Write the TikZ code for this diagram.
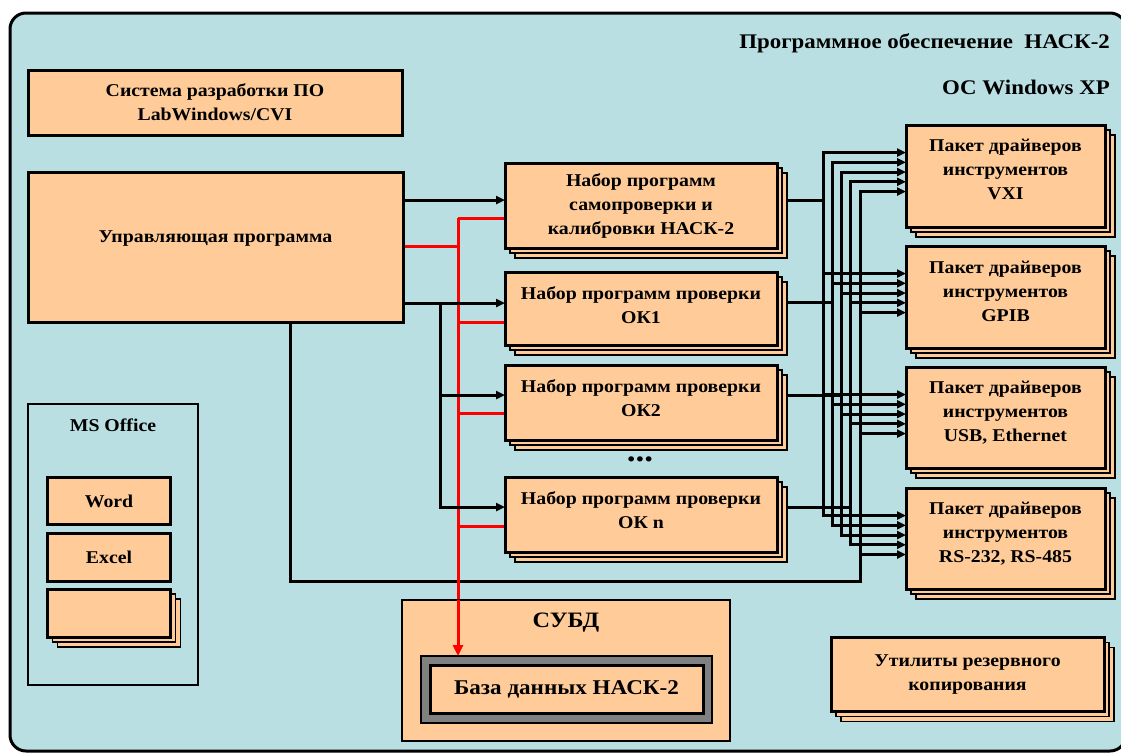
\documentclass[tikz,border=0pt]{standalone}
\usepackage{fontspec}
\setmainfont{Liberation Serif}[FakeStretch=1.1]
\usetikzlibrary{arrows.meta,shadows}
\definecolor{bgblue}{RGB}{185,223,226}
\definecolor{peach}{RGB}{255,204,153}
\definecolor{dbgray}{RGB}{128,128,128}
\pgfdeclarelayer{frame}
\pgfdeclarelayer{wires}
\pgfsetlayers{frame,wires,main}
\tikzset{
  txt/.style={font=\fontsize{18}{24}\selectfont\bfseries, align=center, inner sep=0pt},
  bigtxt/.style={font=\fontsize{20.8}{24}\selectfont\bfseries, inner sep=0pt},
  box/.style={draw=black, line width=3pt, fill=peach, inner sep=0pt, outer sep=0pt, txt},
  stackbox/.style={box,
     copy shadow={shadow xshift=10pt, shadow yshift=-10pt, fill=peach, draw=black, line width=1.5pt},
     copy shadow={shadow xshift=5pt, shadow yshift=-5pt, fill=peach, draw=black, line width=1.5pt}},
  thinbox/.style={draw=black, line width=2.5pt, inner sep=0pt, outer sep=0pt},
  wire/.style={draw=black, line width=3pt},
  vwire/.style={draw=black, line width=3pt, line cap=rect},
  redwire/.style={draw=red, line width=3pt},
  tip/.style={-{Triangle[length=9pt,width=8pt]}},
  redtip/.style={-{Triangle[length=11pt,width=10pt]}},
}
\begin{document}
\begin{tikzpicture}[x=1pt,y=-1pt]
\useasboundingbox (0,0) rectangle (1121,753);
\begin{pgfonlayer}{frame}
\fill[white] (0,0) rectangle (1121,753);
\draw[line width=3pt, fill=bgblue, rounded corners=16pt] (10,13) rectangle (1126,751);
\end{pgfonlayer}

% titles
\node[bigtxt, anchor=east] (title) at (1110,43) {Программное обеспечение~~НАСК-2};
\node[bigtxt, anchor=east] (os) at (1110,87) {ОС Windows XP};

% left column
\node[box, minimum width=374pt, minimum height=65pt] (dev) at (215,102.5) {Система разработки ПО\\LabWindows/CVI};
\node[box, minimum width=375pt, minimum height=150pt,
      label={[txt, yshift=8pt]center:Управляющая программа}] (ctl) at (215.5,247) {};

% MS Office
\node[thinbox, minimum width=170pt, minimum height=281pt,
      label={[txt, anchor=center, yshift=-21pt]north:MS Office}] (office) at (113,544.5) {};
\node[box, minimum width=123pt, minimum height=47pt] (word) at (109,501) {Word};
\node[box, minimum width=123pt, minimum height=48pt] (excel) at (109,557) {Excel};
\node[stackbox, minimum width=123pt, minimum height=48pt] (other) at (109,613) {};

% program sets
\node[stackbox, minimum width=272pt, minimum height=85pt] (st) at (641,205.5) {Набор программ\\самопроверки и\\калибровки НАСК-2};
\node[stackbox, minimum width=272pt, minimum height=73pt,
      label={[txt, yshift=3pt]center:Набор программ проверки\\ОК1}] (ok1) at (641,308.5) {};
\node[stackbox, minimum width=272pt, minimum height=75pt,
      label={[txt, yshift=4pt]center:Набор программ проверки\\ОК2}] (ok2) at (641,402.5) {};
\node[font=\fontsize{32}{32}\selectfont\bfseries, inner sep=0pt] (dots) at (640,459) {...};
\node[stackbox, minimum width=272pt, minimum height=75pt,
      label={[txt, yshift=4pt]center:Набор программ проверки\\ОК n}] (okn) at (641,514.5) {};

% drivers
\node[stackbox, minimum width=199pt, minimum height=102pt,
      label={[txt, yshift=6.5pt]center:Пакет драйверов\\инструментов\\VXI}] (vxi) at (1005.5,176) {};
\node[stackbox, minimum width=199pt, minimum height=102pt,
      label={[txt, yshift=6pt]center:Пакет драйверов\\инструментов\\GPIB}] (gpib) at (1005.5,297) {};
\node[stackbox, minimum width=199pt, minimum height=101pt,
      label={[txt, yshift=5pt]center:Пакет драйверов\\инструментов\\USB, Ethernet}] (usb) at (1005.5,417.5) {};
\node[stackbox, minimum width=199pt, minimum height=101pt,
      label={[txt, yshift=5pt]center:Пакет драйверов\\инструментов\\RS-232, RS-485}] (rs) at (1005.5,538.5) {};

% DBMS
\node[thinbox, fill=peach, minimum width=328pt, minimum height=141pt,
      label={[font=\fontsize{22}{24}\selectfont\bfseries, inner sep=0pt, anchor=center, yshift=-23pt]north:СУБД}] (subd) at (566,670.5) {};
\node[draw=black, line width=2pt, fill=dbgray, inner sep=0pt, outer sep=0pt,
      minimum width=291pt, minimum height=67pt] (dbo) at (566.5,689.5) {};
\node[box, font=\fontsize{21}{24}\selectfont\bfseries, minimum width=273pt, minimum height=48pt] (dbi) at (566.5,689) {База данных НАСК-2};

% backup utilities
\node[stackbox, minimum width=273pt, minimum height=74pt] (util) at (967.5,674.5) {Утилиты резервного\\копирования};

% red link inside the DBMS box (on top of it)
\coordinate (rj) at (458,218);
\draw[redwire, redtip] (rj |- subd.north) -- (rj |- dbo.north);

% wires
\begin{pgfonlayer}{wires}
% control program to the bus (bottom line)
\coordinate (cb) at (290,581);
\coordinate (bus5) at (860,0);
\draw[vwire] (ctl.south -| cb) -- (cb) -- (bus5 |- cb) -- (bus5 |- 0,553);

% red links to DB
\draw[redwire] (ctl.east |- 0,246) -- (rj |- 0,246);
\draw[redwire] (st.west |- rj) -- (rj);
\draw[redwire] (ok1.west |- 0,322) -- (rj |- 0,322);
\draw[redwire] (ok2.west |- 0,413) -- (rj |- 0,413);
\draw[redwire] (okn.west |- 0,526) -- (rj |- 0,526);
\draw[redwire] (rj) -- (rj |- subd.north);

% control program to sets
\coordinate (jb) at (440,303);
\draw[wire, tip] (ctl.east |- 0,200) -- (st.west |- 0,200);
\draw[wire, tip] (ctl.east |- 0,303) -- (ok1.west |- 0,303);
\draw[wire, tip] (jb) |- (ok2.west |- 0,395);
\draw[wire, tip] (jb) |- (okn.west |- 0,507);

% bus to drivers
\foreach \k in {1,...,5} {
  \pgfmathsetmacro\bx{823+9.25*(\k-1)}
  \pgfmathsetmacro\dy{27.5+9.75*(\k-1)}
  \coordinate (bus\k) at (\bx,0);
  \pgfmathsetmacro\ya{125+\dy}
  \pgfmathsetmacro\yb{488+\dy}
  \draw[vwire] (bus\k |- 0,\ya) -- (bus\k |- 0,\yb);
  \foreach \d/\t in {vxi/125,gpib/246,usb/367,rs/488} {
    \pgfmathsetmacro\yy{\t+\dy}
    \draw[wire, tip] (bus\k |- 0,\yy) -- (\d.west |- 0,\yy);
  }
}
\draw[wire] (st.east |- 0,200) -- (bus1 |- 0,200);
\draw[wire] (ok1.east |- 0,302) -- (bus2 |- 0,302);
\draw[wire] (ok2.east |- 0,395) -- (bus3 |- 0,395);
\draw[wire] (okn.east |- 0,507) -- (bus4 |- 0,507);
\end{pgfonlayer}
\end{tikzpicture}
\end{document}
